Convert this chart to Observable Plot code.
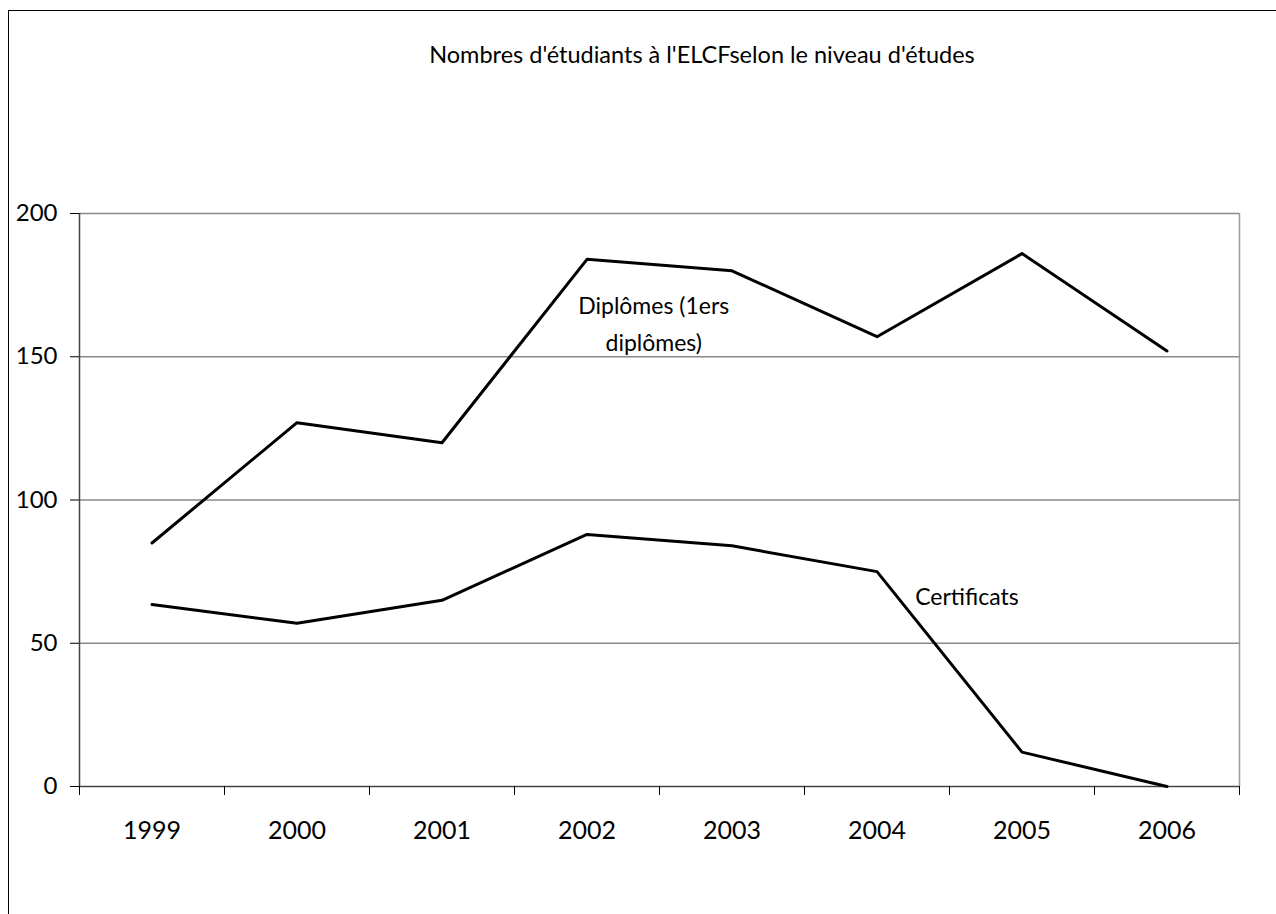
<!DOCTYPE html>
<html>
<head>
<meta charset="utf-8">
<script src="https://cdn.jsdelivr.net/npm/d3@7"></script>
<script src="https://cdn.jsdelivr.net/npm/@observablehq/plot@0.6"></script>
<style>
  html, body { margin: 0; padding: 0; background: #fff; overflow: hidden; width: 1276px; height: 914px; }
  #frame { position: absolute; left: 8px; top: 10px; width: 1300px; height: 1000px; border: 1.5px solid #000; box-sizing: border-box; }
  #title { position: absolute; top: 40px; left: 702px; transform: translateX(-50%); white-space: nowrap;
           font-family: Lato, "Noto Sans", sans-serif; font-size: 23.5px; color: #000; }
  #chart { position: absolute; left: 0; top: 0; }
</style>
</head>
<body>
<div id="frame"></div>
<div id="title">Nombres d'étudiants à l'ELCFselon le niveau d'études</div>
<div id="chart"></div>
<script>
const years = [1999, 2000, 2001, 2002, 2003, 2004, 2005, 2006];
const diplomes = [85, 127, 120, 184, 180, 157, 186, 152];
const certificats = [63.5, 57, 65, 88, 84, 75, 12, 0];
const yTicks = [0, 50, 100, 150, 200];
const gridTicks = [50, 100, 150, 200];
const seriesLabels = ["Diplômes (1ers\ndiplômes)", "Certificats"];
const labelYears = [2002.46, 2004.62];
const labelValues = [162.5, 67.3];

const xMin = years[0] - 0.5, xMax = years[years.length - 1] + 0.5;
const boundaries = d3.range(xMin, xMax + 0.01, 1);

const dipData = years.map((y, i) => ({year: y, value: diplomes[i]}));
const certData = years.map((y, i) => ({year: y, value: certificats[i]}));
const labelData = seriesLabels.map((t, i) => ({text: t, year: labelYears[i], value: labelValues[i]}));

const font = "Lato, 'Noto Sans', sans-serif";

const chart = Plot.plot({
  width: 1276,
  height: 914,
  marginLeft: 79,
  marginRight: 37,
  marginTop: 213,
  marginBottom: 128,
  style: {fontFamily: font, fontSize: "24px", color: "#000", background: "transparent", overflow: "visible"},
  x: {type: "linear", domain: [xMin, xMax]},
  y: {domain: [0, 200]},
  marks: [
    Plot.gridY(gridTicks, {stroke: "#888", strokeOpacity: 1, strokeWidth: 1.5}),
    Plot.ruleX([xMax], {stroke: "#999", strokeWidth: 1.5}),
    Plot.ruleX([xMin], {stroke: "#444", strokeWidth: 1.5}),
    Plot.ruleY([0], {stroke: "#444", strokeWidth: 1.5}),
    Plot.axisY(yTicks, {tickSize: 9, tickPadding: 13, tickFormat: d => String(d), label: null, stroke: "#000", fontSize: 24}),
    Plot.axisX(boundaries, {tickSize: 9, tickFormat: () => "", label: null, stroke: "#000"}),
    Plot.axisX(years, {tickSize: 0, tickPadding: 35, tickFormat: d => String(d), label: null, fontSize: 25}),
    Plot.line(dipData, {x: "year", y: "value", stroke: "#000", strokeWidth: 3}),
    Plot.line(certData, {x: "year", y: "value", stroke: "#000", strokeWidth: 3}),
    Plot.text(labelData, {x: "year", y: "value", text: "text", fontSize: 23, lineHeight: 1.57, fill: "#000"})
  ]
});
document.getElementById("chart").appendChild(chart);
</script>
</body>
</html>
